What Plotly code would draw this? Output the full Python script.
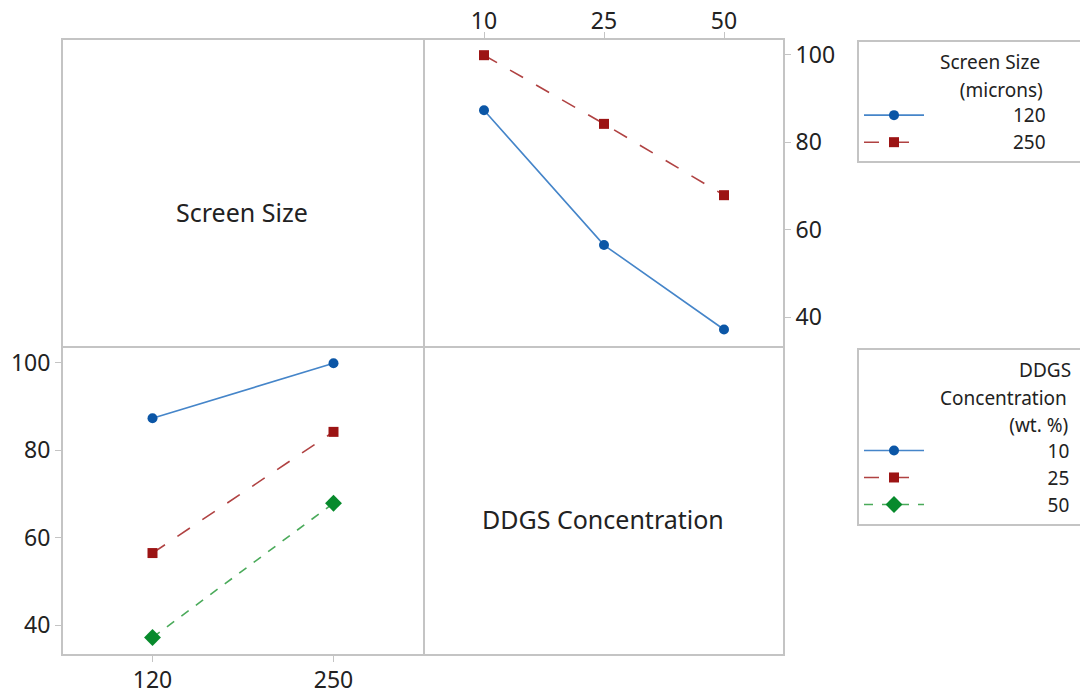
import plotly.graph_objects as go

# ---- data ----
ddgs_levels = ["10", "25", "50"]          # DDGS concentration (wt. %)
screen_levels = ["120", "250"]            # screen size (microns)
mean_screen_120 = [87.3, 56.5, 37.2]      # mean response for screen 120 at DDGS 10/25/50
mean_screen_250 = [99.9, 84.2, 67.9]      # mean response for screen 250 at DDGS 10/25/50
y_ticks = [40, 60, 80, 100]

FONT = "Noto Sans"
GRID = "#c4c4c4"
TXT = "#222222"
NB = "\u00a0"
LFS = 19  # legend text size

styles = [
    dict(mc="#0b56a6", lc="#4585c9", sym="circle", dash="solid", size=10),
    dict(mc="#9c1414", lc="#b04242", sym="square", dash="longdash", size=10),
    dict(mc="#078a2c", lc="#4aaa5a", sym="diamond", dash="dash", size=13),
]

def span(t, lead=0, trail=0):
    return f"<span style='font-size:{LFS}px'>{NB*lead}{t}{NB*trail}</span>"

fig = go.Figure()

# top-right panel: response vs DDGS, by screen size
for i, (name, vals) in enumerate(zip(screen_levels, [mean_screen_120, mean_screen_250])):
    s = styles[i]
    fig.add_trace(go.Scatter(
        x=ddgs_levels, y=vals, mode="lines+markers", name=span(name, 17, 6),
        legendgroup=f"s{name}", legend="legend",
        line=dict(color=s["lc"], width=1.6, dash=s["dash"]),
        marker=dict(color=s["mc"], symbol=s["sym"], size=s["size"]),
        xaxis="x", yaxis="y"))

# bottom-left panel: response vs screen size, by DDGS
for j, name in enumerate(ddgs_levels):
    s = styles[j]
    vals = [mean_screen_120[j], mean_screen_250[j]]
    fig.add_trace(go.Scatter(
        x=screen_levels, y=vals, mode="lines+markers", name=span(name, 24, 1),
        legendgroup=f"d{name}", legend="legend2",
        line=dict(color=s["lc"], width=1.6, dash=s["dash"]),
        marker=dict(color=s["mc"], symbol=s["sym"], size=s["size"]),
        xaxis="x2", yaxis="y2"))

W, H = 1080, 694
def px(v): return v / W
def py(v): return 1 - v / H

L, M, R = 62, 424, 784
T, C, B = 39, 347, 655

common_ax = dict(showline=False, showgrid=False, zeroline=False,
                 ticks="outside", ticklen=6, tickcolor=GRID, tickwidth=1,
                 tickfont=dict(family=FONT, size=23, color=TXT))
yr = [33.2, 103.6]

frame = dict(type="line", xref="paper", yref="paper", layer="below",
             line=dict(color=GRID, width=2))
shapes = [
    dict(type="rect", xref="paper", yref="paper", layer="below",
         x0=px(L), x1=px(R), y0=py(B), y1=py(T), line=dict(color=GRID, width=2)),
    dict(frame, x0=px(M), x1=px(M), y0=py(B), y1=py(T)),
    dict(frame, x0=px(L), x1=px(R), y0=py(C), y1=py(C)),
]

fig.update_layout(
    width=W, height=H, margin=dict(l=0, r=0, t=0, b=0, autoexpand=False),
    paper_bgcolor="white", plot_bgcolor="rgba(0,0,0,0)",
    font=dict(family=FONT, color=TXT),
    xaxis=dict(domain=[px(M), px(R)], anchor="y", side="top", type="category",
               range=[-0.5, 2.5], ticklabelstandoff=-6, **common_ax),
    yaxis=dict(domain=[py(C), py(T)], anchor="x", side="right", range=yr,
               tickvals=y_ticks, **common_ax),
    xaxis2=dict(domain=[px(L), px(M)], anchor="y2", side="bottom", type="category",
                range=[-0.5, 1.5], ticklabelstandoff=-2, **common_ax),
    yaxis2=dict(domain=[py(B), py(C)], anchor="x2", side="left", range=yr,
                tickvals=y_ticks, **common_ax),
    shapes=shapes,
    showlegend=True,
    legend=dict(x=px(857), y=py(40), xanchor="left", yanchor="top",
                bordercolor=GRID, borderwidth=2, bgcolor="white",
                font=dict(family=FONT, size=18.5, color=TXT), itemwidth=60,
                tracegroupgap=0,
                title=dict(text=span("Screen Size", 16) + "<br>" + span("(microns)", 20),
                           side="top", font=dict(family=FONT, size=21, color=TXT))),
    legend2=dict(x=px(857), y=py(348), xanchor="left", yanchor="top",
                 bordercolor=GRID, borderwidth=2, bgcolor="white",
                 font=dict(family=FONT, size=18.5, color=TXT), itemwidth=60,
                 tracegroupgap=0,
                 title=dict(text=span("DDGS", 32) + "<br>" + span("Concentration", 16) +
                                 "<br>" + span("(wt. %)", 30),
                            side="top", font=dict(family=FONT, size=21, color=TXT))),
    annotations=[
        dict(text="Screen Size", x=px(242), y=py(212), xref="paper", yref="paper",
             xanchor="center", yanchor="middle",
             showarrow=False, font=dict(family=FONT, size=25, color=TXT)),
        dict(text="DDGS Concentration", x=px(603), y=py(519), xref="paper", yref="paper",
             xanchor="center", yanchor="middle",
             showarrow=False, font=dict(family=FONT, size=25, color=TXT)),
    ],
)

fig.write_html("out.html", config={"displayModeBar": False},
               post_script="document.body.style.margin='0';")
